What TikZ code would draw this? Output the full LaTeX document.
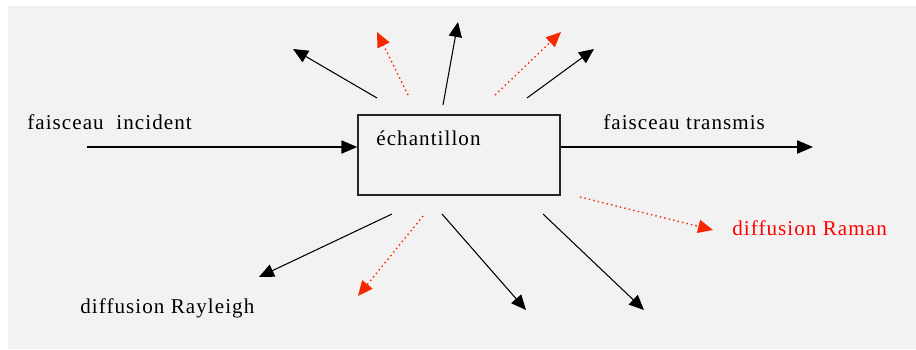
\documentclass[tikz,border=0pt]{standalone}
\usepackage{fontspec}
\setmainfont{Liberation Serif}[LetterSpace=5]
\usetikzlibrary{arrows.meta}

\definecolor{bggray}{RGB}{242,242,242}
\definecolor{ramanred}{RGB}{245,40,0}

\begin{document}
\begin{tikzpicture}[x=0.02cm,y=-0.02cm]
  \tikzset{sample/.style = {draw=black!85,line width=0.9pt,minimum width=4.04cm,minimum height=1.6cm,inner sep=0pt}}
  \tikzset{lbl/.style = {anchor=west,inner sep=0pt,font=\fontsize{12}{14}\selectfont}}
  \tikzset{beam/.style = {draw=black,line width=0.7pt,-{Triangle[length=9pt,width=7.5pt]}}}
  \tikzset{rayleigh/.style = {draw=black,line width=0.6pt,-{Triangle[length=8.5pt,width=7.5pt]}}}
  \tikzset{raman/.style = {draw=ramanred,line width=0.8pt,dash pattern=on 0.8pt off 1.8pt,-{Triangle[length=8.5pt,width=7.5pt,fill=ramanred]}}}

  % background
  \useasboundingbox (0,0) rectangle (916,349);
  \fill[white] (0,0) rectangle (916,349);
  \fill[bggray] (8,6) rectangle (916,349);

	\node[sample] (sample) at (459,155) {};
	\node[lbl] (sampletext) at (376,138) {échantillon};

	\node[lbl] (incident) at (27,122) {faisceau\hspace{0.6em}incident};
	\node[lbl] (transmis) at (603,122) {faisceau transmis};
	\node[lbl] (rayleigh) at (80,308) {diffusion Rayleigh};
	\node[lbl,text=red] (raman) at (732,228) {diffusion Raman};

	\coordinate (in) at (87,147);
	\coordinate (out) at (813,147);
	\draw[beam] (in) -- (in -| sample.west);
	\draw[beam] (in -| sample.east) -- (out);

       \foreach \n/\sx/\sy/\ex/\ey in {r1/377/98/293/49, r2/443/105/458/22, r3/527/98/594/49,
                                      r4/392/214/259/277, r5/442/214/526/310, r6/543/214/644/310}
    {
      \coordinate (\n s) at (\sx,\sy);
      \coordinate (\n e) at (\ex,\ey);
      \draw[rayleigh] (\n s) -- (\n e);
    }

       \foreach \n/\sx/\sy/\ex/\ey in {m1/408/95/377/32, m2/495/95/561/32,
                                      m3/423/216/358/296, m4/580/197/713/230}
    {
      \coordinate (\n s) at (\sx,\sy);
      \coordinate (\n e) at (\ex,\ey);
      \draw[raman] (\n s) -- (\n e);
    }

\end{tikzpicture}
\end{document}
